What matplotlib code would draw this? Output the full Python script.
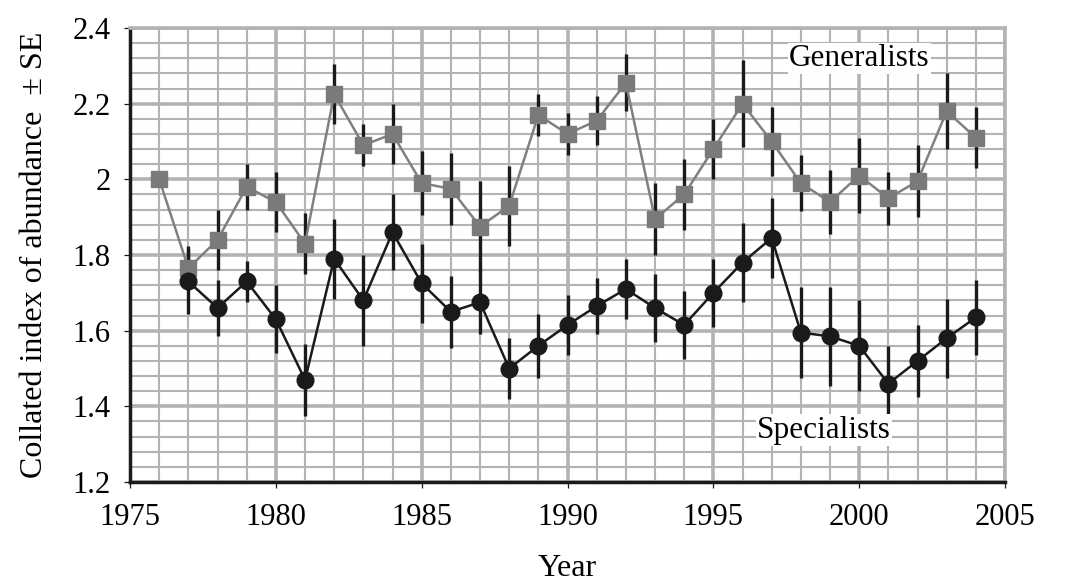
import numpy as np
import matplotlib.pyplot as plt
from matplotlib.ticker import MultipleLocator, FormatStrFormatter

plt.rcParams['font.family'] = ['Liberation Serif', 'DejaVu Serif']

# generalists (squares)
gen_years = list(range(1976, 2005))
gen_vals = [2.00, 1.765, 1.84, 1.98, 1.94, 1.83, 2.225, 2.09, 2.12, 1.99,
            1.975, 1.875, 1.93, 2.17, 2.12, 2.155, 2.255, 1.895, 1.96, 2.08,
            2.20, 2.10, 1.99, 1.94, 2.01, 1.95, 1.995, 2.18, 2.11]
gen_se = [0.0, 0.06, 0.08, 0.06, 0.08, 0.08, 0.08, 0.055, 0.08, 0.085,
          0.095, 0.12, 0.105, 0.055, 0.055, 0.065, 0.075, 0.095, 0.095, 0.08,
          0.115, 0.09, 0.075, 0.085, 0.10, 0.07, 0.095, 0.10, 0.08]

# specialists (circles)
spe_years = list(range(1977, 2005))
spe_vals = [1.73, 1.66, 1.73, 1.63, 1.47, 1.79, 1.68, 1.86, 1.725, 1.65,
            1.675, 1.50, 1.56, 1.615, 1.665, 1.71, 1.66, 1.615, 1.70, 1.78,
            1.845, 1.595, 1.585, 1.56, 1.46, 1.52, 1.58, 1.635]
spe_se = [0.085, 0.075, 0.055, 0.09, 0.095, 0.105, 0.12, 0.10, 0.105, 0.095,
          0.085, 0.08, 0.085, 0.08, 0.075, 0.08, 0.09, 0.09, 0.09, 0.105,
          0.105, 0.12, 0.13, 0.12, 0.10, 0.095, 0.105, 0.10]

grid_col = '#b3b3b3'

fig = plt.figure(figsize=(10.72, 5.82), dpi=100)
ax = fig.add_axes([0.1213, 0.1718, 0.8162, 0.7801])

ax.set_xlim(1975, 2005)
ax.set_ylim(1.2, 2.4)
ax.xaxis.set_major_locator(MultipleLocator(5))
ax.xaxis.set_minor_locator(MultipleLocator(1))
ax.yaxis.set_major_locator(MultipleLocator(0.2))
ax.yaxis.set_minor_locator(MultipleLocator(0.04))
ax.yaxis.set_major_formatter(FormatStrFormatter('%g'))

ax.grid(which='minor', color=grid_col, lw=1.5, zorder=0)
ax.grid(which='major', color=grid_col, lw=2.6, zorder=0)
ax.set_axisbelow(True)

for s in ['top', 'right']:
    ax.spines[s].set_color(grid_col)
    ax.spines[s].set_linewidth(2.6)
for s in ['left', 'bottom']:
    ax.spines[s].set_color('#1a1a1a')
    ax.spines[s].set_linewidth(2.5)

ax.tick_params(which='major', length=4, width=0.9, color='#1a1a1a',
               labelsize=22)
ax.tick_params(axis='y', which='major', pad=10)
ax.tick_params(axis='x', which='major', pad=11)
ax.tick_params(which='minor', length=0)

ax.errorbar(gen_years, gen_vals, yerr=gen_se, fmt='none', ecolor='#1a1a1a',
            elinewidth=2.4, capsize=0, zorder=3)
ax.plot(gen_years, gen_vals, color='#808080', lw=1.8, marker='s', ms=11,
        mfc='#7a7a7a', mec='#7a7a7a', zorder=4)

ax.errorbar(spe_years, spe_vals, yerr=spe_se, fmt='none', ecolor='#1a1a1a',
            elinewidth=2.4, capsize=0, zorder=3)
ax.plot(spe_years, spe_vals, color='#1a1a1a', lw=1.8, marker='o', ms=12,
        mfc='#1a1a1a', mec='#1a1a1a', zorder=4)

ax.text(2000.0, 2.32, 'Generalists', fontsize=22.5, ha='center', va='center',
        bbox=dict(fc='white', ec='none', pad=1), zorder=5)
ax.text(1998.8, 1.337, 'Specialists', fontsize=22.5, ha='center', va='center',
        bbox=dict(fc='white', ec='none', pad=1), zorder=5)

ax.set_xlabel('Year', fontsize=23, labelpad=16)
ax.set_ylabel('Collated index of abundance  \u00b1 SE', fontsize=23, labelpad=17)

fig.savefig('out.png', dpi=100)
